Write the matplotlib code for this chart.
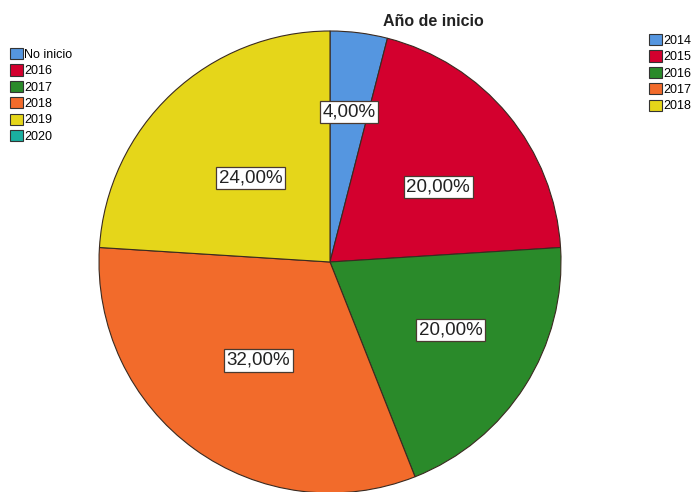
import matplotlib
matplotlib.use("Agg")
import matplotlib.pyplot as plt
from matplotlib.patches import Patch
import numpy as np

plt.rcParams['font.family'] = ['Liberation Sans', 'DejaVu Sans']

title = "Año de inicio"
slice_labels = ["2014", "2015", "2016", "2017", "2018"]
slice_values = [4.0, 20.0, 20.0, 32.0, 24.0]
slice_colors = ["#5596E0", "#D3002E", "#2A8A2A", "#F26B2B", "#E5D61A"]
label_radius = [0.655, 0.57, 0.60, 0.527, 0.50]
label_angle_shift = [0.0, -4.8, 3.1, 0.0, 0.4]

left_legend_labels = ["No inicio", "2016", "2017", "2018", "2019", "2020"]
left_legend_colors = ["#5596E0", "#D3002E", "#2A8A2A", "#F26B2B", "#E5D61A", "#1AAFA0"]

W, H = 695, 492
fig = plt.figure(figsize=(W / 100, H / 100), dpi=100)
cx, cy, R = 330, 262, 231
ax = fig.add_axes([(cx - R) / W, (H - cy - R) / H, 2 * R / W, 2 * R / H])
ax.set_aspect('equal')
ax.axis('off')

wedges, _ = ax.pie(slice_values, colors=slice_colors, startangle=90, counterclock=False,
                   radius=1, wedgeprops=dict(edgecolor="#3a2a20", linewidth=0.8))
ax.set_xlim(-1, 1)
ax.set_ylim(-1, 1)

for w, v, rf, da in zip(wedges, slice_values, label_radius, label_angle_shift):
    ang = np.deg2rad((w.theta1 + w.theta2) / 2 + da)
    ax.text(rf * np.cos(ang), rf * np.sin(ang), f"{v:.2f}%".replace('.', ','),
            ha='center', va='center', fontsize=13.5, color="#222222",
            bbox=dict(boxstyle='square,pad=0.14', facecolor='white', edgecolor='#4a3a30', linewidth=0.9))

fig.text(433 / W, 1 - 21 / H, title, ha='center', va='center', fontsize=11.5, fontweight='bold', color="#222222")

common = dict(frameon=False, fontsize=9, handlelength=1.0, handleheight=1.0,
              handletextpad=0.15, labelspacing=0.28, borderaxespad=0, borderpad=0)
h_left = [Patch(facecolor=c, edgecolor="#333333", linewidth=0.8) for c in left_legend_colors]
fig.legend(h_left, left_legend_labels, loc='upper left', bbox_to_anchor=(10 / W, 1 - 48 / H), **common)
h_right = [Patch(facecolor=c, edgecolor="#333333", linewidth=0.8) for c in slice_colors]
fig.legend(h_right, slice_labels, loc='upper left', bbox_to_anchor=(649 / W, 1 - 34 / H), **common)

fig.savefig("out.png", dpi=100)
